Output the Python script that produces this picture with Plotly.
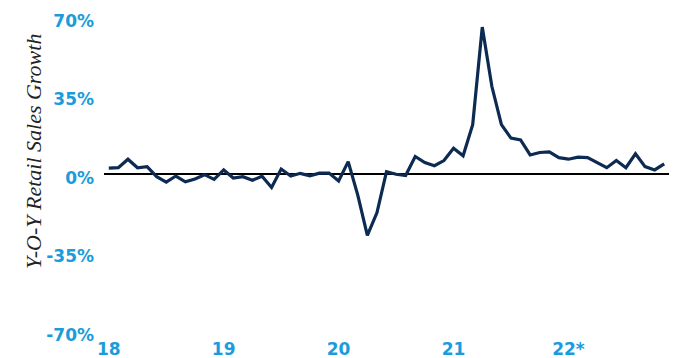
import plotly.graph_objects as go

# Monthly YoY retail sales growth (%), Jan 2018 - Nov 2022
values = [2.6, 2.8, 6.6, 2.8, 3.3, -1.2, -3.6, -0.9, -3.5, -2.2, -0.3, -2.4,
          1.8, -1.8, -1.2, -2.8, -1.0, -6.0, 2.2, -0.9, 0.3, -0.8, 0.4, 0.4,
          -3.1, 5.5, -9.4, -27.4, -17.3, 1.0, -0.1, -0.7, 7.8, 5.1, 3.7, 6.0,
          11.5, 8.1, 22.0, 65.5, 39.1, 22.0, 16.0, 15.2, 8.5, 9.6, 9.9, 7.3,
          6.6, 7.5, 7.3, 5.1, 2.8, 6.0, 2.8, 9.0, 3.3, 1.8, 4.5]
months = list(range(len(values)))
x_tickvals = [0, 12, 24, 36, 48]
x_ticktext = ["18", "19", "20", "21", "22*"]
y_tickvals = [-70, -35, 0, 35, 70]
y_ticktext = ["-70%", "-35%", "0%", "35%", "70%"]

blue = "#1a9cdc"
navy = "#0c2a52"

fig = go.Figure()
fig.add_trace(go.Scatter(x=months, y=values, mode="lines",
                         line=dict(color=navy, width=3.2), hoverinfo="skip"))

fig.update_layout(
    width=676, height=358,
    margin=dict(l=104, r=7, t=17, b=27),
    plot_bgcolor="white", paper_bgcolor="white",
    showlegend=False,
    font=dict(family="DejaVu Sans", size=17, color=blue),
)
fig.update_xaxes(range=[-0.5, 58.5], tickvals=x_tickvals, ticktext=x_ticktext,
                 showgrid=False, zeroline=False, showline=False, ticks="",
                 ticklabelstandoff=6, automargin=False,
                 tickfont=dict(family="DejaVu Sans", size=17, color=blue, weight="bold"))
fig.update_yaxes(range=[-70, 70], tickvals=y_tickvals, ticktext=y_ticktext,
                 showgrid=False, zeroline=True, zerolinecolor="black", zerolinewidth=1.5,
                 showline=False, ticks="", ticklabelstandoff=9, ticklabelshift=4,
                 automargin=False,
                 tickfont=dict(family="DejaVu Sans", size=17, color=blue, weight="bold"))
fig.add_annotation(text="Y-O-Y Retail Sales Growth", textangle=-90,
                   xref="paper", yref="paper", x=-0.126, y=0.573,
                   xanchor="center", yanchor="middle", showarrow=False,
                   font=dict(family="Liberation Serif", size=22, color="#222222", style="italic"))

fig.write_html("out.html")
